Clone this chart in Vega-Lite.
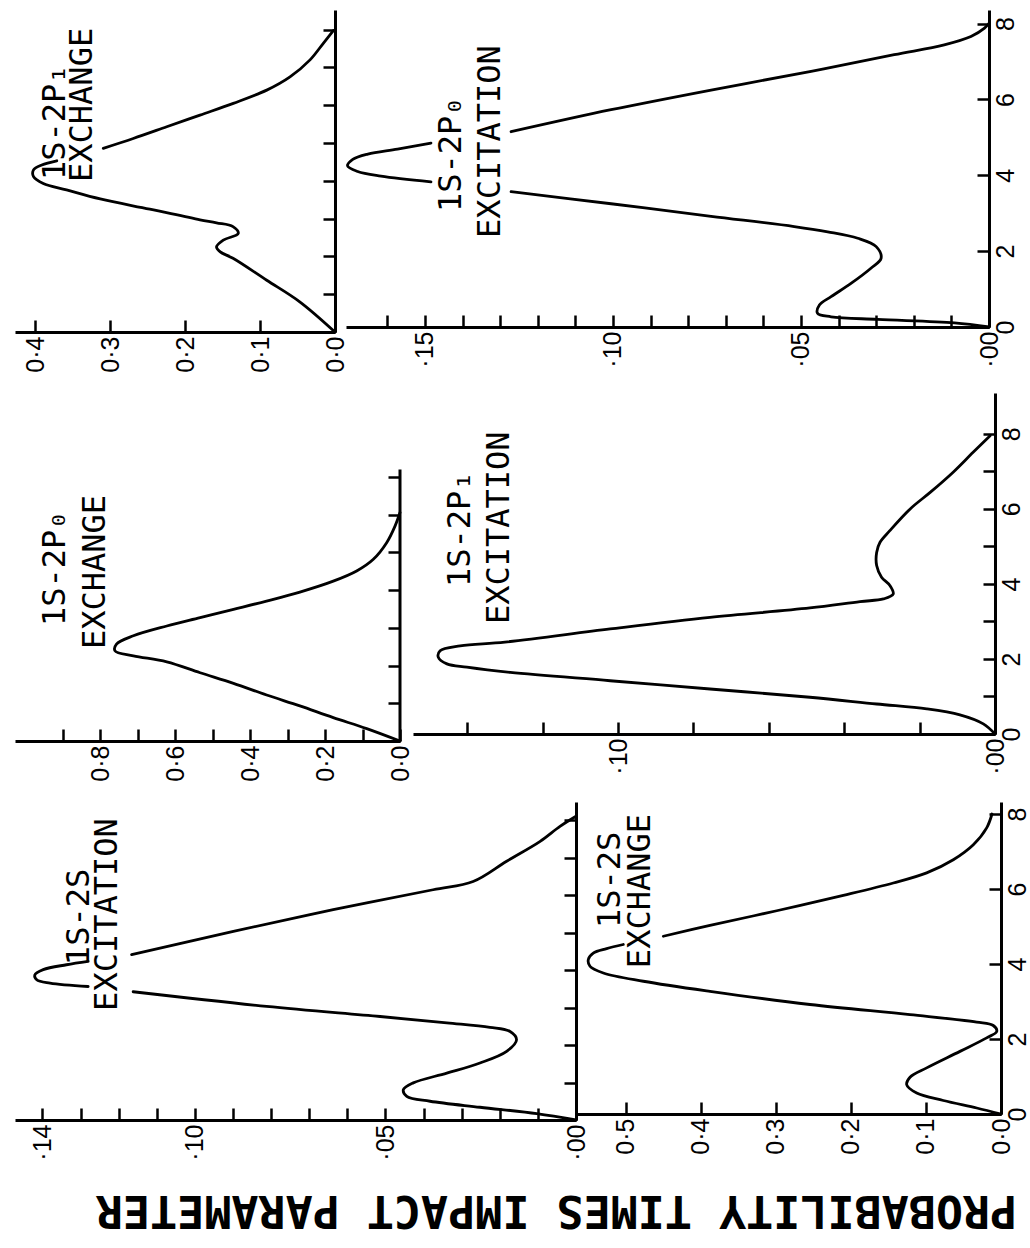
{
  "$schema": "https://vega.github.io/schema/vega-lite/v6.json",
  "background": "white",
  "padding": {"left": 15, "top": 10, "right": 2, "bottom": 2},
  "autosize": {"type": "pad"},
  "title": {"text": "PROBABILITY TIMES IMPACT PARAMETER", "orient": "bottom", "angle": 180, "anchor": "middle", "font": "DejaVu Sans Mono", "fontWeight": "bold", "fontSize": 45, "color": "black", "baseline": "alphabetic", "offset": 36, "dx": -34},
  "config": {
    "view": {"stroke": null},
    "axis": {"grid": false, "domainColor": "black", "domainWidth": 3, "tickColor": "black", "tickWidth": 2.5, "labelColor": "black", "labelFont": "Liberation Sans", "labelFontSize": 25, "labelOverlap": false, "labelFlush": false},
    "axisX": {"labelAngle": -90, "labelAlign": "right", "labelBaseline": "middle", "tickSize": -12, "labelPadding": 16, "labelFontSize": 25},
    "axisY": {"labelAngle": -90, "labelAlign": "center", "labelBaseline": "top", "tickSize": -12, "labelPadding": 16, "labelFontSize": 25}
  },
  "datasets": {
    "curves": [
      {"panel":"A","seg":1,"b":0,"p":0},
      {"panel":"A","seg":1,"b":0.8,"p":0.047},
      {"panel":"A","seg":1,"b":1.37,"p":0.091},
      {"panel":"A","seg":1,"b":1.95,"p":0.136},
      {"panel":"A","seg":1,"b":2.12,"p":0.153},
      {"panel":"A","seg":1,"b":2.25,"p":0.158},
      {"panel":"A","seg":1,"b":2.43,"p":0.149},
      {"panel":"A","seg":1,"b":2.61,"p":0.129},
      {"panel":"A","seg":1,"b":2.79,"p":0.136},
      {"panel":"A","seg":1,"b":2.89,"p":0.158},
      {"panel":"A","seg":1,"b":2.97,"p":0.18},
      {"panel":"A","seg":1,"b":3.25,"p":0.247},
      {"panel":"A","seg":1,"b":3.52,"p":0.313},
      {"panel":"A","seg":1,"b":3.76,"p":0.358},
      {"panel":"A","seg":1,"b":3.93,"p":0.389},
      {"panel":"A","seg":1,"b":4.11,"p":0.402},
      {"panel":"A","seg":1,"b":4.29,"p":0.402},
      {"panel":"A","seg":1,"b":4.42,"p":0.391},
      {"panel":"A","seg":1,"b":4.53,"p":0.371},
      {"panel":"A","seg":2,"b":4.86,"p":0.309},
      {"panel":"A","seg":2,"b":5.12,"p":0.269},
      {"panel":"A","seg":2,"b":5.43,"p":0.2244},
      {"panel":"A","seg":2,"b":5.74,"p":0.18},
      {"panel":"A","seg":2,"b":6.05,"p":0.1356},
      {"panel":"A","seg":2,"b":6.4,"p":0.091},
      {"panel":"A","seg":2,"b":6.75,"p":0.06},
      {"panel":"A","seg":2,"b":7.2,"p":0.0333},
      {"panel":"A","seg":2,"b":7.64,"p":0.0156},
      {"panel":"A","seg":2,"b":7.98,"p":0.002},
      {"panel":"B","seg":1,"b":0,"p":0},
      {"panel":"B","seg":1,"b":0.11,"p":0.0092},
      {"panel":"B","seg":1,"b":0.2,"p":0.0296},
      {"panel":"B","seg":1,"b":0.27,"p":0.042},
      {"panel":"B","seg":1,"b":0.36,"p":0.0456},
      {"panel":"B","seg":1,"b":0.58,"p":0.0451},
      {"panel":"B","seg":1,"b":0.8,"p":0.042},
      {"panel":"B","seg":1,"b":1.15,"p":0.0367},
      {"panel":"B","seg":1,"b":1.55,"p":0.0314},
      {"panel":"B","seg":1,"b":1.81,"p":0.0287},
      {"panel":"B","seg":1,"b":2.12,"p":0.03},
      {"panel":"B","seg":1,"b":2.34,"p":0.0349},
      {"panel":"B","seg":1,"b":2.51,"p":0.0429},
      {"panel":"B","seg":1,"b":2.65,"p":0.0518},
      {"panel":"B","seg":1,"b":2.92,"p":0.0739},
      {"panel":"B","seg":1,"b":3.25,"p":0.1005},
      {"panel":"B","seg":1,"b":3.57,"p":0.1271},
      {"panel":"B","seg":2,"b":3.83,"p":0.1484},
      {"panel":"B","seg":2,"b":3.98,"p":0.1617},
      {"panel":"B","seg":2,"b":4.1,"p":0.1679},
      {"panel":"B","seg":2,"b":4.25,"p":0.1706},
      {"panel":"B","seg":2,"b":4.42,"p":0.1692},
      {"panel":"B","seg":2,"b":4.56,"p":0.1652},
      {"panel":"B","seg":2,"b":4.69,"p":0.1573},
      {"panel":"B","seg":2,"b":4.85,"p":0.1484},
      {"panel":"B","seg":3,"b":5.15,"p":0.1271},
      {"panel":"B","seg":3,"b":5.73,"p":0.1005},
      {"panel":"B","seg":3,"b":6.25,"p":0.0739},
      {"panel":"B","seg":3,"b":6.74,"p":0.0473},
      {"panel":"B","seg":3,"b":7.18,"p":0.0252},
      {"panel":"B","seg":3,"b":7.44,"p":0.0119},
      {"panel":"B","seg":3,"b":7.66,"p":0.0048},
      {"panel":"B","seg":3,"b":7.88,"p":0.0012},
      {"panel":"B","seg":3,"b":8.01,"p":0},
      {"panel":"C","seg":1,"b":0,"p":0},
      {"panel":"C","seg":1,"b":0.33,"p":0.0888},
      {"panel":"C","seg":1,"b":0.62,"p":0.178},
      {"panel":"C","seg":1,"b":0.93,"p":0.267},
      {"panel":"C","seg":1,"b":1.22,"p":0.3556},
      {"panel":"C","seg":1,"b":1.53,"p":0.444},
      {"panel":"C","seg":1,"b":1.81,"p":0.533},
      {"panel":"C","seg":1,"b":2.1,"p":0.622},
      {"panel":"C","seg":1,"b":2.26,"p":0.711},
      {"panel":"C","seg":1,"b":2.39,"p":0.76},
      {"panel":"C","seg":1,"b":2.57,"p":0.756},
      {"panel":"C","seg":1,"b":2.79,"p":0.711},
      {"panel":"C","seg":1,"b":3.05,"p":0.622},
      {"panel":"C","seg":1,"b":3.27,"p":0.533},
      {"panel":"C","seg":1,"b":3.49,"p":0.444},
      {"panel":"C","seg":1,"b":3.71,"p":0.356},
      {"panel":"C","seg":1,"b":3.95,"p":0.267},
      {"panel":"C","seg":1,"b":4.24,"p":0.178},
      {"panel":"C","seg":1,"b":4.51,"p":0.1156},
      {"panel":"C","seg":1,"b":4.82,"p":0.0711},
      {"panel":"C","seg":1,"b":5.26,"p":0.0356},
      {"panel":"C","seg":1,"b":5.7,"p":0.0133},
      {"panel":"C","seg":1,"b":6.06,"p":0},
      {"panel":"D","seg":1,"b":0,"p":0},
      {"panel":"D","seg":1,"b":0.27,"p":0.0031},
      {"panel":"D","seg":1,"b":0.51,"p":0.0093},
      {"panel":"D","seg":1,"b":0.67,"p":0.0181},
      {"panel":"D","seg":1,"b":0.8,"p":0.0314},
      {"panel":"D","seg":1,"b":0.98,"p":0.0491},
      {"panel":"D","seg":1,"b":1.2,"p":0.0756},
      {"panel":"D","seg":1,"b":1.42,"p":0.1021},
      {"panel":"D","seg":1,"b":1.64,"p":0.1286},
      {"panel":"D","seg":1,"b":1.78,"p":0.1401},
      {"panel":"D","seg":1,"b":1.87,"p":0.1454},
      {"panel":"D","seg":1,"b":2.05,"p":0.1477},
      {"panel":"D","seg":1,"b":2.22,"p":0.1472},
      {"panel":"D","seg":1,"b":2.35,"p":0.1419},
      {"panel":"D","seg":1,"b":2.45,"p":0.13},
      {"panel":"D","seg":1,"b":2.8,"p":0.1021},
      {"panel":"D","seg":1,"b":3.11,"p":0.0756},
      {"panel":"D","seg":1,"b":3.36,"p":0.0491},
      {"panel":"D","seg":1,"b":3.53,"p":0.0358},
      {"panel":"D","seg":1,"b":3.6,"p":0.0296},
      {"panel":"D","seg":1,"b":3.73,"p":0.027},
      {"panel":"D","seg":1,"b":3.96,"p":0.0279},
      {"panel":"D","seg":1,"b":4.18,"p":0.0301},
      {"panel":"D","seg":1,"b":4.49,"p":0.0314},
      {"panel":"D","seg":1,"b":4.84,"p":0.0314},
      {"panel":"D","seg":1,"b":5.11,"p":0.0305},
      {"panel":"D","seg":1,"b":5.42,"p":0.0279},
      {"panel":"D","seg":1,"b":6.0,"p":0.0225},
      {"panel":"D","seg":1,"b":6.44,"p":0.0172},
      {"panel":"D","seg":1,"b":6.98,"p":0.0111},
      {"panel":"D","seg":1,"b":7.51,"p":0.0058},
      {"panel":"D","seg":1,"b":7.95,"p":0.0013},
      {"panel":"E","seg":1,"b":0,"p":0},
      {"panel":"E","seg":1,"b":0.17,"p":0.0103},
      {"panel":"E","seg":1,"b":0.34,"p":0.0252},
      {"panel":"E","seg":1,"b":0.5,"p":0.0383},
      {"panel":"E","seg":1,"b":0.63,"p":0.0444},
      {"panel":"E","seg":1,"b":0.81,"p":0.0453},
      {"panel":"E","seg":1,"b":0.99,"p":0.0427},
      {"panel":"E","seg":1,"b":1.25,"p":0.0339},
      {"panel":"E","seg":1,"b":1.52,"p":0.0252},
      {"panel":"E","seg":1,"b":1.83,"p":0.0182},
      {"panel":"E","seg":1,"b":2.14,"p":0.0156},
      {"panel":"E","seg":1,"b":2.36,"p":0.0173},
      {"panel":"E","seg":1,"b":2.47,"p":0.0226},
      {"panel":"E","seg":1,"b":2.59,"p":0.0339},
      {"panel":"E","seg":1,"b":2.76,"p":0.0514},
      {"panel":"E","seg":1,"b":3.03,"p":0.0812},
      {"panel":"E","seg":1,"b":3.42,"p":0.1162},
      {"panel":"E","seg":2,"b":3.56,"p":0.128},
      {"panel":"E","seg":2,"b":3.65,"p":0.138},
      {"panel":"E","seg":2,"b":3.74,"p":0.1415},
      {"panel":"E","seg":2,"b":3.87,"p":0.142},
      {"panel":"E","seg":2,"b":4.01,"p":0.1398},
      {"panel":"E","seg":2,"b":4.14,"p":0.1337},
      {"panel":"E","seg":2,"b":4.23,"p":0.128},
      {"panel":"E","seg":3,"b":4.41,"p":0.1166},
      {"panel":"E","seg":3,"b":5.03,"p":0.0899},
      {"panel":"E","seg":3,"b":5.61,"p":0.0637},
      {"panel":"E","seg":3,"b":6.14,"p":0.0375},
      {"panel":"E","seg":3,"b":6.36,"p":0.027},
      {"panel":"E","seg":3,"b":6.9,"p":0.0182},
      {"panel":"E","seg":3,"b":7.43,"p":0.0094},
      {"panel":"E","seg":3,"b":7.83,"p":0.0042},
      {"panel":"E","seg":3,"b":8.1,"p":0},
      {"panel":"F","seg":1,"b":0,"p":0},
      {"panel":"F","seg":1,"b":0.16,"p":0.0324},
      {"panel":"F","seg":1,"b":0.36,"p":0.0769},
      {"panel":"F","seg":1,"b":0.56,"p":0.1124},
      {"panel":"F","seg":1,"b":0.78,"p":0.1257},
      {"panel":"F","seg":1,"b":0.98,"p":0.1213},
      {"panel":"F","seg":1,"b":1.23,"p":0.0991},
      {"panel":"F","seg":1,"b":1.67,"p":0.0547},
      {"panel":"F","seg":1,"b":2.03,"p":0.0191},
      {"panel":"F","seg":1,"b":2.2,"p":0.0057},
      {"panel":"F","seg":1,"b":2.36,"p":0.0103},
      {"panel":"F","seg":1,"b":2.45,"p":0.0324},
      {"panel":"F","seg":1,"b":2.65,"p":0.1213},
      {"panel":"F","seg":1,"b":2.92,"p":0.2547},
      {"panel":"F","seg":1,"b":3.27,"p":0.388},
      {"panel":"F","seg":1,"b":3.54,"p":0.4769},
      {"panel":"F","seg":1,"b":3.76,"p":0.5302},
      {"panel":"F","seg":1,"b":3.94,"p":0.548},
      {"panel":"F","seg":1,"b":4.12,"p":0.5502},
      {"panel":"F","seg":1,"b":4.29,"p":0.5436},
      {"panel":"F","seg":1,"b":4.41,"p":0.5258},
      {"panel":"F","seg":1,"b":4.52,"p":0.5036},
      {"panel":"F","seg":2,"b":4.74,"p":0.4502},
      {"panel":"F","seg":2,"b":5.03,"p":0.388},
      {"panel":"F","seg":2,"b":5.42,"p":0.299},
      {"panel":"F","seg":2,"b":5.83,"p":0.2102},
      {"panel":"F","seg":2,"b":6.16,"p":0.1436},
      {"panel":"F","seg":2,"b":6.43,"p":0.0991},
      {"panel":"F","seg":2,"b":6.78,"p":0.0636},
      {"panel":"F","seg":2,"b":7.18,"p":0.0369},
      {"panel":"F","seg":2,"b":7.63,"p":0.0191},
      {"panel":"F","seg":2,"b":8.0,"p":0.012}
    ]
  },
  "spacing": 20,
  "vconcat": [
    {
      "spacing": 11,
      "bounds": "flush",
      "hconcat": [
        {
          "width": 320, "height": 322,
          "layer": [
            {
              "data": {"name": "curves"},
              "transform": [{"filter": "datum.panel === 'A'"}],
              "mark": {"type": "line", "interpolate": "catmull-rom", "strokeWidth": 2.8, "color": "black", "strokeCap": "round"},
              "encoding": {
                "x": {"field": "p", "type": "quantitative", "title": null, "scale": {"domain": [0, 0.4267], "reverse": true, "nice": false, "zero": true}, "axis": {"labelFontSize": 25, "values": [0, 0.05, 0.1, 0.15, 0.2, 0.25, 0.3, 0.35, 0.4], "labelExpr": "round(datum.value*20)%2==0 ? replace(format(datum.value,'.1f'),'.','·') : ''"}},
                "y": {"field": "b", "type": "quantitative", "title": null, "scale": {"domain": [0, 8.52], "nice": false, "zero": true}, "axis": {"orient": "right", "values": [1, 2, 3, 4, 5, 6, 7, 8], "labels": false}},
                "detail": {"field": "seg", "type": "nominal"},
                "order": {"field": "b", "type": "quantitative"}
              }
            },
            {
              "data": {"values": [{}]},
              "mark": {"type": "text", "angle": -90, "align": "left", "baseline": "top", "font": "DejaVu Sans Mono", "fontSize": 32, "color": "black"},
              "encoding": {
                "x": {"datum": 0.3933, "type": "quantitative", "title": null, "scale": {"domain": [0, 0.4267], "reverse": true, "nice": false, "zero": true}},
                "y": {"datum": 4.02, "type": "quantitative", "title": null, "scale": {"domain": [0, 8.52], "nice": false, "zero": true}},
                "text": {"value": "1S-2P₁"}
              }
            },
            {
              "data": {"values": [{}]},
              "mark": {"type": "text", "angle": -90, "align": "left", "baseline": "top", "font": "DejaVu Sans Mono", "fontSize": 32, "color": "black"},
              "encoding": {
                "x": {"datum": 0.3573, "type": "quantitative", "title": null, "scale": {"domain": [0, 0.4267], "reverse": true, "nice": false, "zero": true}},
                "y": {"datum": 3.97, "type": "quantitative", "title": null, "scale": {"domain": [0, 8.52], "nice": false, "zero": true}},
                "text": {"value": "EXCHANGE"}
              }
            }
          ]
        },
        {
          "width": 643, "height": 317,
          "layer": [
            {
              "data": {"name": "curves"},
              "transform": [{"filter": "datum.panel === 'B'"}],
              "mark": {"type": "line", "interpolate": "catmull-rom", "strokeWidth": 2.8, "color": "black", "strokeCap": "round"},
              "encoding": {
                "x": {"field": "p", "type": "quantitative", "title": null, "scale": {"domain": [0, 0.171], "reverse": true, "nice": false, "zero": true}, "axis": {"labelFontSize": 25, "values": [0, 0.01, 0.02, 0.03, 0.04, 0.05, 0.06, 0.07, 0.08, 0.09, 0.1, 0.11, 0.12, 0.13, 0.14, 0.15, 0.16], "labelExpr": "round(datum.value*100)%5==0 ? replace(format(datum.value,'.2f'),'0.','·') : ''"}},
                "y": {"field": "b", "type": "quantitative", "title": null, "scale": {"domain": [0, 8.36], "nice": false, "zero": true}, "axis": {"labelFontSize": 25, "orient": "right", "values": [0, 1, 2, 3, 4, 5, 6, 7, 8], "labelExpr": "round(datum.value)%2==0 ? datum.label : ''"}},
                "detail": {"field": "seg", "type": "nominal"},
                "order": {"field": "b", "type": "quantitative"}
              }
            },
            {
              "data": {"values": [{}]},
              "mark": {"type": "text", "angle": -90, "align": "left", "baseline": "top", "font": "DejaVu Sans Mono", "fontSize": 32, "color": "black"},
              "encoding": {
                "x": {"datum": 0.1471, "type": "quantitative", "title": null, "scale": {"domain": [0, 0.171], "reverse": true, "nice": false, "zero": true}},
                "y": {"datum": 3.03, "type": "quantitative", "title": null, "scale": {"domain": [0, 8.36], "nice": false, "zero": true}},
                "text": {"value": "1S-2P₀"}
              }
            },
            {
              "data": {"values": [{}]},
              "mark": {"type": "text", "angle": -90, "align": "left", "baseline": "top", "font": "DejaVu Sans Mono", "fontSize": 32, "color": "black"},
              "encoding": {
                "x": {"datum": 0.1367, "type": "quantitative", "title": null, "scale": {"domain": [0, 0.171], "reverse": true, "nice": false, "zero": true}},
                "y": {"datum": 2.35, "type": "quantitative", "title": null, "scale": {"domain": [0, 8.36], "nice": false, "zero": true}},
                "text": {"value": "EXCITATION"}
              }
            }
          ]
        }
      ]
    },
    {
      "spacing": 13,
      "bounds": "flush",
      "hconcat": [
        {
          "width": 385, "height": 348,
          "layer": [
            {
              "data": {"name": "curves"},
              "transform": [{"filter": "datum.panel === 'C'"}],
              "mark": {"type": "line", "interpolate": "catmull-rom", "strokeWidth": 2.8, "color": "black", "strokeCap": "round"},
              "encoding": {
                "x": {"field": "p", "type": "quantitative", "title": null, "scale": {"domain": [0, 1.0267], "reverse": true, "nice": false, "zero": true}, "axis": {"labelFontSize": 25, "values": [0, 0.1, 0.2, 0.3, 0.4, 0.5, 0.6, 0.7, 0.8, 0.9], "labelExpr": "round(datum.value*10)%2==0 ? replace(format(datum.value,'.1f'),'.','·') : ''"}},
                "y": {"field": "b", "type": "quantitative", "title": null, "scale": {"domain": [0, 9.23], "nice": false, "zero": true}, "axis": {"orient": "right", "values": [1, 2, 3, 4, 5, 6, 7], "labels": false, "domain": false}},
                "detail": {"field": "seg", "type": "nominal"},
                "order": {"field": "b", "type": "quantitative"}
              }
            },
            {
              "data": {"values": [{}]},
              "mark": {"type": "rule", "strokeWidth": 3, "color": "black"},
              "encoding": {
                "x": {"datum": 0, "type": "quantitative", "title": null, "scale": {"domain": [0, 1.0267], "reverse": true, "nice": false, "zero": true}},
                "y": {"datum": 0, "type": "quantitative", "title": null, "scale": {"domain": [0, 9.23], "nice": false, "zero": true}},
                "y2": {"datum": 7.2}
              }
            },
            {
              "data": {"values": [{}]},
              "mark": {"type": "text", "angle": -90, "align": "left", "baseline": "top", "font": "DejaVu Sans Mono", "fontSize": 32, "color": "black"},
              "encoding": {
                "x": {"datum": 0.96, "type": "quantitative", "title": null, "scale": {"domain": [0, 1.0267], "reverse": true, "nice": false, "zero": true}},
                "y": {"datum": 3.05, "type": "quantitative", "title": null, "scale": {"domain": [0, 9.23], "nice": false, "zero": true}},
                "text": {"value": "1S-2P₀"}
              }
            },
            {
              "data": {"values": [{}]},
              "mark": {"type": "text", "angle": -90, "align": "left", "baseline": "top", "font": "DejaVu Sans Mono", "fontSize": 32, "color": "black"},
              "encoding": {
                "x": {"datum": 0.8533, "type": "quantitative", "title": null, "scale": {"domain": [0, 1.0267], "reverse": true, "nice": false, "zero": true}},
                "y": {"datum": 2.44, "type": "quantitative", "title": null, "scale": {"domain": [0, 9.23], "nice": false, "zero": true}},
                "text": {"value": "EXCHANGE"}
              }
            }
          ]
        },
        {
          "width": 582, "height": 341,
          "layer": [
            {
              "data": {"name": "curves"},
              "transform": [{"filter": "datum.panel === 'D'"}],
              "mark": {"type": "line", "interpolate": "catmull-rom", "strokeWidth": 2.8, "color": "black", "strokeCap": "round"},
              "encoding": {
                "x": {"field": "p", "type": "quantitative", "title": null, "scale": {"domain": [0, 0.1544], "reverse": true, "nice": false, "zero": true}, "axis": {"labelFontSize": 25, "values": [0, 0.01, 0.02, 0.03, 0.04, 0.05, 0.06, 0.07, 0.08, 0.09, 0.1, 0.11, 0.12, 0.13, 0.14, 0.15], "labelExpr": "round(datum.value*100)%5==0 ? replace(format(datum.value,'.2f'),'0.','·') : ''"}},
                "y": {"field": "b", "type": "quantitative", "title": null, "scale": {"domain": [0, 9.09], "nice": false, "zero": true}, "axis": {"labelFontSize": 25, "orient": "right", "values": [0, 1, 2, 3, 4, 5, 6, 7, 8], "labelExpr": "round(datum.value)%2==0 ? datum.label : ''"}},
                "detail": {"field": "seg", "type": "nominal"},
                "order": {"field": "b", "type": "quantitative"}
              }
            },
            {
              "data": {"values": [{}]},
              "mark": {"type": "text", "angle": -90, "align": "left", "baseline": "top", "font": "DejaVu Sans Mono", "fontSize": 32, "color": "black"},
              "encoding": {
                "x": {"datum": 0.1459, "type": "quantitative", "title": null, "scale": {"domain": [0, 0.1544], "reverse": true, "nice": false, "zero": true}},
                "y": {"datum": 3.92, "type": "quantitative", "title": null, "scale": {"domain": [0, 9.09], "nice": false, "zero": true}},
                "text": {"value": "1S-2P₁"}
              }
            },
            {
              "data": {"values": [{}]},
              "mark": {"type": "text", "angle": -90, "align": "left", "baseline": "top", "font": "DejaVu Sans Mono", "fontSize": 32, "color": "black"},
              "encoding": {
                "x": {"datum": 0.1355, "type": "quantitative", "title": null, "scale": {"domain": [0, 0.1544], "reverse": true, "nice": false, "zero": true}},
                "y": {"datum": 2.93, "type": "quantitative", "title": null, "scale": {"domain": [0, 9.09], "nice": false, "zero": true}},
                "text": {"value": "EXCITATION"}
              }
            }
          ]
        }
      ]
    },
    {
      "spacing": 1,
      "bounds": "flush",
      "hconcat": [
        {
          "width": 561, "height": 318,
          "layer": [
            {
              "data": {"name": "curves"},
              "transform": [{"filter": "datum.panel === 'E'"}],
              "mark": {"type": "line", "interpolate": "catmull-rom", "strokeWidth": 2.8, "color": "black", "strokeCap": "round"},
              "encoding": {
                "x": {"field": "p", "type": "quantitative", "title": null, "scale": {"domain": [0, 0.1472], "reverse": true, "nice": false, "zero": true}, "axis": {"labelFontSize": 25, "values": [0, 0.01, 0.02, 0.03, 0.04, 0.05, 0.06, 0.07, 0.08, 0.09, 0.1, 0.11, 0.12, 0.13, 0.14], "labelExpr": "indexof([0,5,10,14], round(datum.value*100)) >= 0 ? replace(format(datum.value,'.2f'),'0.','·') : ''"}},
                "y": {"field": "b", "type": "quantitative", "title": null, "scale": {"domain": [0, 8.48], "nice": false, "zero": true}, "axis": {"orient": "right", "values": [1, 2, 3, 4, 5, 6, 7, 8], "labels": false}},
                "detail": {"field": "seg", "type": "nominal"},
                "order": {"field": "b", "type": "quantitative"}
              }
            },
            {
              "data": {"values": [{}]},
              "mark": {"type": "text", "angle": -90, "align": "left", "baseline": "top", "font": "DejaVu Sans Mono", "fontSize": 32, "color": "black"},
              "encoding": {
                "x": {"datum": 0.1344, "type": "quantitative", "title": null, "scale": {"domain": [0, 0.1472], "reverse": true, "nice": false, "zero": true}},
                "y": {"datum": 4.13, "type": "quantitative", "title": null, "scale": {"domain": [0, 8.48], "nice": false, "zero": true}},
                "text": {"value": "1S-2S"}
              }
            },
            {
              "data": {"values": [{}]},
              "mark": {"type": "text", "angle": -90, "align": "left", "baseline": "top", "font": "DejaVu Sans Mono", "fontSize": 32, "color": "black"},
              "encoding": {
                "x": {"datum": 0.127, "type": "quantitative", "title": null, "scale": {"domain": [0, 0.1472], "reverse": true, "nice": false, "zero": true}},
                "y": {"datum": 2.91, "type": "quantitative", "title": null, "scale": {"domain": [0, 8.48], "nice": false, "zero": true}},
                "text": {"value": "EXCITATION"}
              }
            }
          ]
        },
        {
          "width": 424, "height": 312,
          "layer": [
            {
              "data": {"name": "curves"},
              "transform": [{"filter": "datum.panel === 'F'"}],
              "mark": {"type": "line", "interpolate": "catmull-rom", "strokeWidth": 2.8, "color": "black", "strokeCap": "round"},
              "encoding": {
                "x": {"field": "p", "type": "quantitative", "title": null, "scale": {"domain": [0, 0.5653], "reverse": true, "nice": false, "zero": true}, "axis": {"labelFontSize": 25, "values": [0, 0.05, 0.1, 0.15, 0.2, 0.25, 0.3, 0.35, 0.4, 0.45, 0.5, 0.55], "labelExpr": "round(datum.value*20)%2==0 ? replace(format(datum.value,'.1f'),'.','·') : ''"}},
                "y": {"field": "b", "type": "quantitative", "title": null, "scale": {"domain": [0, 8.32], "nice": false, "zero": true}, "axis": {"labelFontSize": 25, "orient": "right", "values": [0, 1, 2, 3, 4, 5, 6, 7, 8], "labelExpr": "round(datum.value)%2==0 ? datum.label : ''"}},
                "detail": {"field": "seg", "type": "nominal"},
                "order": {"field": "b", "type": "quantitative"}
              }
            },
            {
              "data": {"values": [{}]},
              "mark": {"type": "text", "angle": -90, "align": "left", "baseline": "top", "font": "DejaVu Sans Mono", "fontSize": 32, "color": "black"},
              "encoding": {
                "x": {"datum": 0.5413, "type": "quantitative", "title": null, "scale": {"domain": [0, 0.5653], "reverse": true, "nice": false, "zero": true}},
                "y": {"datum": 4.96, "type": "quantitative", "title": null, "scale": {"domain": [0, 8.32], "nice": false, "zero": true}},
                "text": {"value": "1S-2S"}
              }
            },
            {
              "data": {"values": [{}]},
              "mark": {"type": "text", "angle": -90, "align": "left", "baseline": "top", "font": "DejaVu Sans Mono", "fontSize": 32, "color": "black"},
              "encoding": {
                "x": {"datum": 0.5013, "type": "quantitative", "title": null, "scale": {"domain": [0, 0.5653], "reverse": true, "nice": false, "zero": true}},
                "y": {"datum": 3.89, "type": "quantitative", "title": null, "scale": {"domain": [0, 8.32], "nice": false, "zero": true}},
                "text": {"value": "EXCHANGE"}
              }
            }
          ]
        }
      ]
    }
  ]
}
